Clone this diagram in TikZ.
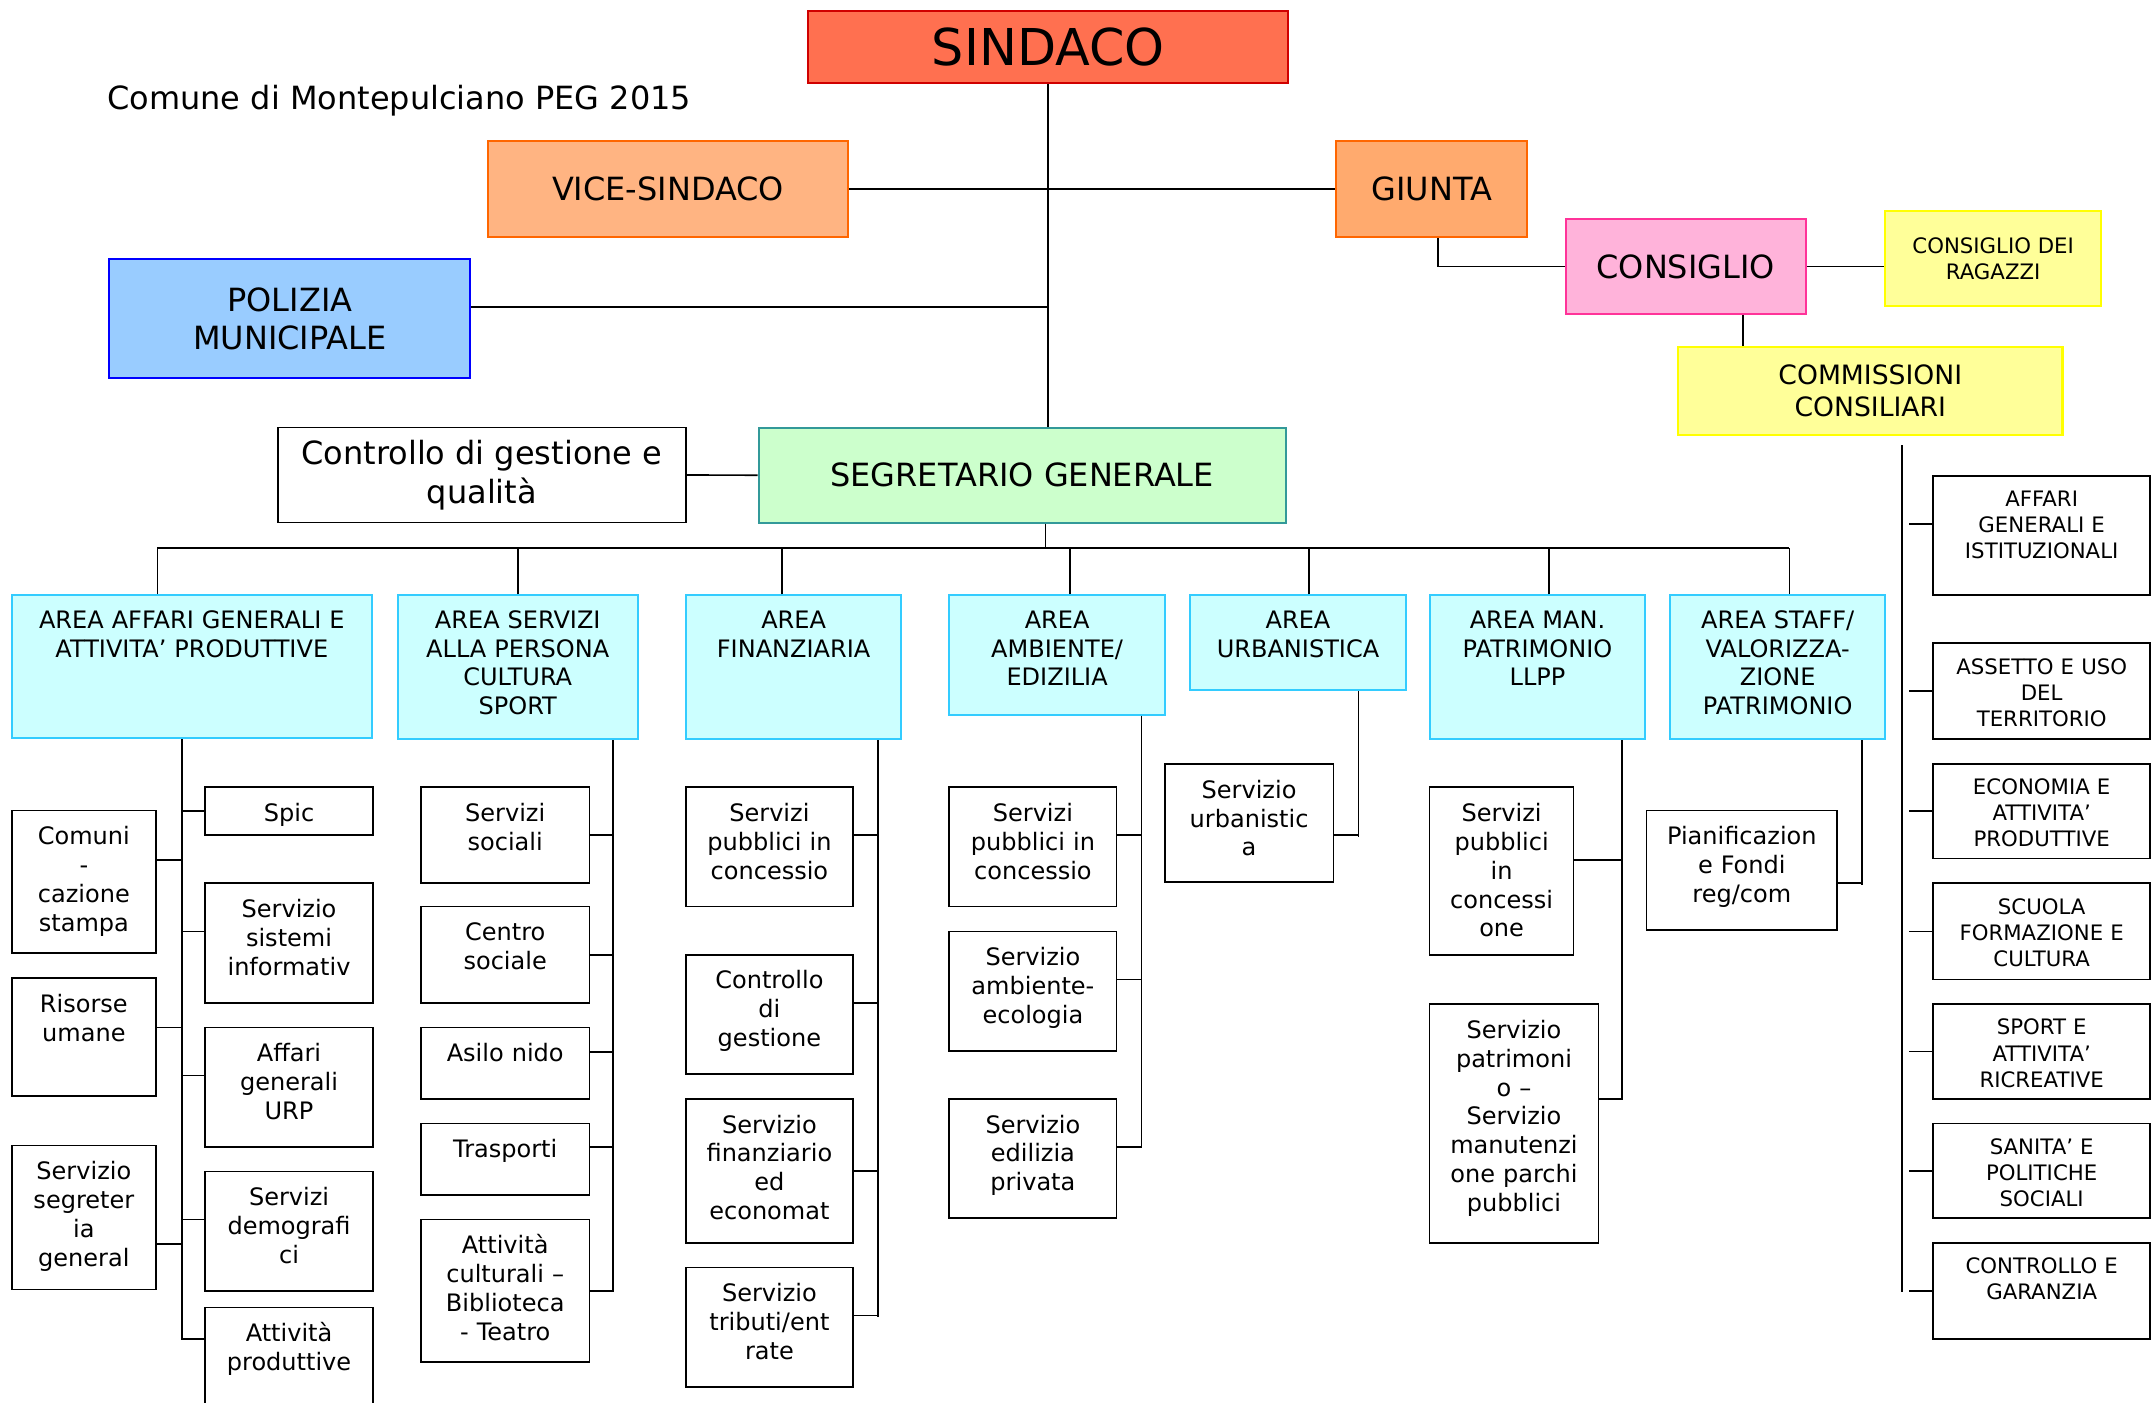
\documentclass[tikz,border=0pt]{standalone}
\usepackage{fontspec}
\setmainfont{DejaVu Sans}

\definecolor{sindacofill}{HTML}{FF7050}
\definecolor{sindacoline}{HTML}{D00000}
\definecolor{vicefill}{HTML}{FFB482}
\definecolor{giuntafill}{HTML}{FFAA6E}
\definecolor{orangeline}{HTML}{FF6600}
\definecolor{poliziafill}{HTML}{99CCFF}
\definecolor{poliziline}{HTML}{0000FF}
\definecolor{consigliofill}{HTML}{FFB3DA}
\definecolor{consiglioline}{HTML}{FF3399}
\definecolor{gialloFill}{HTML}{FFFF99}
\definecolor{gialloline}{HTML}{FFFF00}
\definecolor{segrfill}{HTML}{CCFFCC}
\definecolor{segrline}{HTML}{339999}
\definecolor{areafill}{HTML}{CCFFFF}
\definecolor{arealine}{HTML}{33CCFF}

\tikzset{
  headbox/.style={draw, line width=1.5pt, anchor=north west, align=center, inner sep=0pt,
    font=\fontsize{23.3}{28}\selectfont},
  areabox/.style={draw=arealine, fill=areafill, line width=1.5pt, anchor=north west, align=center,
    inner sep=0pt, text height=24pt, font=\fontsize{17.5}{21}\selectfont},
  servbox/.style={draw, line width=1.2pt, anchor=north west, align=center, inner sep=0pt,
    text height=25pt, font=\fontsize{17.5}{21}\selectfont},
  commbox/.style={servbox, text height=22.5pt, text width=158pt, font=\fontsize{15.5}{19}\selectfont},
  link/.style={line width=1.2pt}
}

\begin{document}
\begin{tikzpicture}[x=1pt, y=-1pt]
\useasboundingbox (0,0) rectangle (1568,1022);

\node[headbox, fill=sindacofill, draw=sindacoline, minimum width=350pt, minimum height=53pt,
  font=\fontsize{37}{40}\selectfont] (sindaco) at (588,7) {SINDACO};
\node[anchor=west, inner sep=0pt, font=\fontsize{23.3}{28}\selectfont] (titolo) at (78,73)
  {Comune di Montepulciano PEG 2015};
\node[headbox, fill=vicefill, draw=orangeline, minimum width=262pt, minimum height=70pt] (vice) at (355,102) {VICE-SINDACO};
\node[headbox, fill=giuntafill, draw=orangeline, minimum width=139pt, minimum height=70pt] (giunta) at (973,102) {GIUNTA};
\node[headbox, fill=poliziafill, draw=poliziline, minimum width=263pt, minimum height=87pt] (polizia) at (79,188) {POLIZIA\\MUNICIPALE};
\node[headbox, fill=consigliofill, draw=consiglioline, minimum width=175pt, minimum height=69pt] (consiglio) at (1140,159) {CONSIGLIO};
\node[headbox, fill=gialloFill, draw=gialloline, minimum width=157pt, minimum height=69pt,
  font=\fontsize{15.5}{19}\selectfont] (ragazzi) at (1373,153) {CONSIGLIO DEI\\RAGAZZI};
\node[headbox, fill=gialloFill, draw=gialloline, minimum width=280pt, minimum height=64pt,
  font=\fontsize{19.4}{24}\selectfont] (commissioni) at (1222,252) {COMMISSIONI\\CONSILIARI};
\node[headbox, line width=1.2pt, minimum width=297pt, minimum height=69pt] (controllo) at (202,311) {Controllo di gestione e\\qualità};
\node[headbox, fill=segrfill, draw=segrline, minimum width=384pt, minimum height=69pt] (segretario) at (552,311) {SEGRETARIO GENERALE};

\node[areabox, text width=262pt, text depth=80pt] (a1) at (8,433) {AREA AFFARI GENERALI E\\ATTIVITA’ PRODUTTIVE};
\node[areabox, text width=175pt, text depth=81pt] (a2) at (289,433) {AREA SERVIZI\\ALLA PERSONA\\CULTURA\\SPORT};
\node[areabox, text width=157pt, text depth=81pt] (a3) at (499,433) {AREA\\FINANZIARIA};
\node[areabox, text width=157pt, text depth=63pt] (a4) at (691,433) {AREA\\AMBIENTE/\\EDIZILIA};
\node[areabox, text width=158pt, text depth=45pt] (a5) at (866,433) {AREA\\URBANISTICA};
\node[areabox, text width=157pt, text depth=81pt] (a6) at (1041,433) {AREA MAN.\\PATRIMONIO\\LLPP};
\node[areabox, text width=157pt, text depth=81pt] (a7) at (1216,433) {AREA STAFF/\\VALORIZZA-\\ZIONE\\PATRIMONIO};

\node[servbox, text width=105pt, text depth=79pt] (com) at (8,590) {Comuni\\-\\cazione\\stampa};
\node[servbox, text width=105pt, text depth=61pt] (ris) at (8,712) {Risorse\\umane};
\node[servbox, text width=105pt, text depth=80pt] (seg) at (8,834) {Servizio\\segreter\\ia\\general};
\node[servbox, text width=122pt, text depth=10pt] (spic) at (149,573) {Spic};
\node[servbox, text width=122pt, text depth=62pt] (sis) at (149,643) {Servizio\\sistemi\\informativ};
\node[servbox, text width=122pt, text depth=62pt] (urp) at (149,748) {Affari\\generali\\URP};
\node[servbox, text width=122pt, text depth=62pt] (dem) at (149,853) {Servizi\\demografi\\ci};
\node[servbox, text width=122pt, text depth=50pt] (prod) at (149,952) {Attività\\produttive};

\node[servbox, text width=123pt, text depth=45pt] (soc) at (306,573) {Servizi\\sociali};
\node[servbox, text width=123pt, text depth=45pt] (cen) at (306,660) {Centro\\sociale};
\node[servbox, text width=123pt, text depth=27pt] (asi) at (306,748) {Asilo nido};
\node[servbox, text width=123pt, text depth=27pt] (tra) at (306,818) {Trasporti};
\node[servbox, text width=123pt, text depth=79pt] (cul) at (306,888) {Attività\\culturali –\\Biblioteca\\- Teatro};

\node[servbox, text width=122pt, text depth=62pt] (fsp) at (499,573) {Servizi\\pubblici in\\concessio};
\node[servbox, text width=122pt, text depth=62pt] (fcg) at (499,695) {Controllo\\di\\gestione};
\node[servbox, text width=122pt, text depth=80pt] (ffe) at (499,800) {Servizio\\finanziario\\ed\\economat};
\node[servbox, text width=122pt, text depth=62pt] (ftr) at (499,923) {Servizio\\tributi/ent\\rate};

\node[servbox, text width=122pt, text depth=62pt] (esp) at (691,573) {Servizi\\pubblici in\\concessio};
\node[servbox, text width=122pt, text depth=62pt] (eam) at (691,678) {Servizio\\ambiente-\\ecologia};
\node[servbox, text width=122pt, text depth=62pt] (eed) at (691,800) {Servizio\\edilizia\\privata};

\node[servbox, text width=123pt, text depth=61pt] (urb) at (848,556) {Servizio\\urbanistic\\a};

\node[servbox, text width=105pt, text depth=97pt] (psp) at (1041,573) {Servizi\\pubblici\\in\\concessi\\one};
\node[servbox, text width=123pt, text depth=149pt] (ppa) at (1041,731) {Servizio\\patrimoni\\o –\\Servizio\\manutenzi\\one parchi\\pubblici};

\node[servbox, text width=139pt, text depth=62pt] (pfo) at (1199,590) {Pianificazion\\e Fondi\\reg/com};

\node[commbox, text depth=64.5pt] (k1) at (1408,346) {AFFARI\\GENERALI E\\ISTITUZIONALI};
\node[commbox, text depth=47.5pt] (k2) at (1408,468) {ASSETTO E USO\\DEL\\TERRITORIO};
\node[commbox, text depth=46.5pt] (k3) at (1408,556) {ECONOMIA E\\ATTIVITA’\\PRODUTTIVE};
\node[commbox, text depth=47.5pt] (k4) at (1408,643) {SCUOLA\\FORMAZIONE E\\CULTURA};
\node[commbox, text depth=46.5pt] (k5) at (1408,731) {SPORT E\\ATTIVITA’\\RICREATIVE};
\node[commbox, text depth=46.5pt] (k6) at (1408,818) {SANITA’ E\\POLITICHE\\SOCIALI};
\node[commbox, text depth=47.5pt] (k7) at (1408,905) {CONTROLLO E\\GARANZIA};

\draw[link] (sindaco.south) -- (sindaco.south |- segretario.north);
\draw[link] (vice.east) -- (giunta.west);
\draw[link] ([yshift=8.5pt]polizia.east) -- ([yshift=8.5pt]polizia.east -| sindaco.south);
\draw[link] ([xshift=4.5pt]giunta.south) |- (consiglio.west);
\draw[link] (consiglio.east) -- (consiglio.east -| ragazzi.west);
\draw[link] ([xshift=41.5pt]consiglio.south) -- ([xshift=41.5pt]consiglio.south |- commissioni.north);
\draw[link] (controllo.east) -- (segretario.west);

\draw[link] ([xshift=17pt]segretario.south) -- ++(0,18) coordinate (bus);
\draw[link] ([xshift=-25pt]a1.north |- bus) -- ([xshift=8.5pt]a7.north |- bus);
\foreach \n/\d in {a1/-25pt, a2/0pt, a3/-8.5pt, a4/9.5pt, a5/8pt, a6/8.5pt, a7/8.5pt}
  \draw[link] ([xshift=\d]\n.north) -- ([xshift=\d]\n.north |- bus);

\draw[link] ([xshift=-7pt]a1.south) -- ++(0,438) coordinate (v1);
\foreach \n/\s in {com/16pt, ris/7pt, seg/-19.5pt}
  \draw[link] ([yshift=\s]\n.east) -- ([yshift=\s]\n.east -| v1);
\foreach \n/\s in {spic/0pt, sis/8.5pt, urp/8.5pt, dem/8.5pt, prod/14.5pt}
  \draw[link] ([yshift=\s]\n.west) -- ([yshift=\s]\n.west -| v1);

\draw[link] ([xshift=69.5pt]a2.south) -- ++(0,402) coordinate (v2);
\foreach \n/\s in {soc/0pt, cen/0pt, asi/8pt, tra/9pt, cul/0pt}
  \draw[link] ([yshift=\s]\n.east) -- ([yshift=\s]\n.east -| v2);

\draw[link] ([xshift=61.5pt]a3.south) -- ++(0,420) coordinate (v3);
\foreach \n/\s in {fsp/8.5pt, fcg/8.5pt, ffe/0pt, ftr/8.5pt}
  \draw[link] ([yshift=\s]\n.east) -- ([yshift=\s]\n.east -| v3);

\draw[link] ([xshift=61.5pt]a4.south) -- ++(0,315) coordinate (v4);
\foreach \n/\s in {esp/8.5pt, eam/8.5pt, eed/8.5pt}
  \draw[link] ([yshift=\s]\n.east) -- ([yshift=\s]\n.east -| v4);

\draw[link] ([xshift=44pt]a5.south) -- ++(0,106) coordinate (v5);
\draw[link] ([yshift=-9pt]urb.east) -- ([yshift=-9pt]urb.east -| v5);

\draw[link] ([xshift=61.5pt]a6.south) -- ++(0,262) coordinate (v6);
\foreach \n/\s in {psp/8pt, ppa/18pt}
  \draw[link] ([yshift=\s]\n.east) -- ([yshift=\s]\n.east -| v6);

\draw[link] ([xshift=61.5pt]a7.south) -- ++(0,105) coordinate (v7);
\draw[link] ([yshift=-9.5pt]pfo.east) -- ([yshift=-9.5pt]pfo.east -| v7);

\draw[link] ([xshift=23pt,yshift=-7pt]commissioni.south) -- ++(0,617) coordinate (cv);
\foreach \n/\s in {k1/8.5pt, k2/0pt, k3/0pt, k4/0pt, k5/0pt, k6/0pt, k7/0pt}
  \draw[link] ([yshift=\s]\n.west) -- ++(-17,0);
\end{tikzpicture}
\end{document}
